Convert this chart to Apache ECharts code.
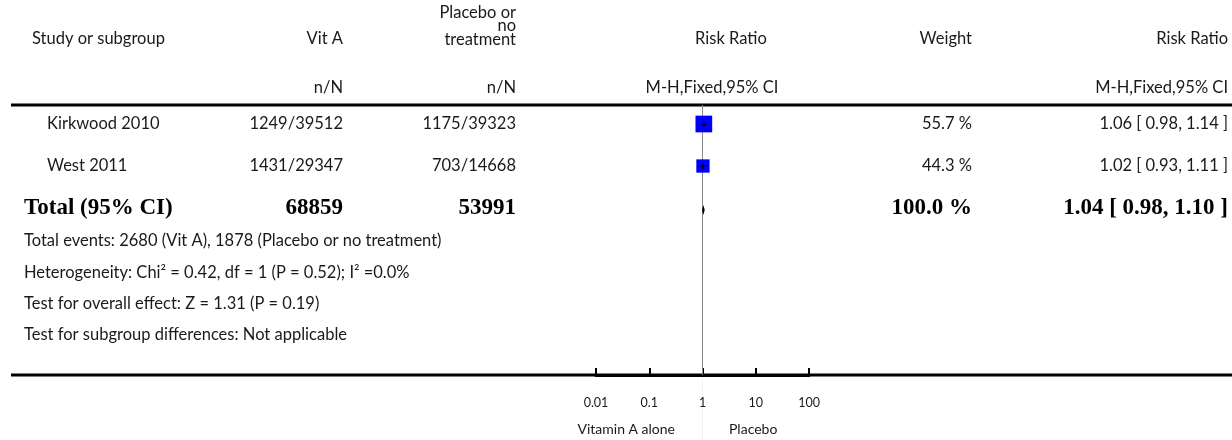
<!DOCTYPE html>
<html>
<head>
<meta charset="utf-8">
<script src="https://cdn.jsdelivr.net/npm/echarts@6/dist/echarts.min.js"></script>
<style>
  html, body { margin: 0; padding: 0; background: #fff; }
  #chart { width: 1232px; height: 440px; }
</style>
</head>
<body>
<div id="chart"></div>
<script>
// Studies and their raw counts
const studies = ['Kirkwood 2010', 'West 2011'];
const vitAEvents = [1249, 1431];
const vitATotal = [39512, 29347];
const ctrlEvents = [1175, 703];
const ctrlTotal = [39323, 14668];

// Per-study risk ratios with 95% CI and weights (%)
const rr = [1.06, 1.02];
const rrLow = [0.98, 0.93];
const rrHigh = [1.14, 1.11];
const weights = [55.7, 44.3];

// Pooled estimate
const totalLabel = 'Total (95% CI)';
const totalVitA = 68859;
const totalCtrl = 53991;
const totalWeight = 100.0;
const totalRR = 1.04;
const totalLow = 0.98;
const totalHigh = 1.10;

// Footnotes
const footnotes = [
  'Total events: 2680 (Vit A), 1878 (Placebo or no treatment)',
  'Heterogeneity: Chi\u00B2 = 0.42, df = 1 (P = 0.52); I\u00B2 =0.0%',
  'Test for overall effect: Z = 1.31 (P = 0.19)',
  'Test for subgroup differences: Not applicable'
];

// Axis ticks and direction labels
const tickValues = [0.01, 0.1, 1, 10, 100];
const tickLabels = ['0.01', '0.1', '1', '10', '100'];
const favoursLeft = 'Vitamin A alone';
const favoursRight = 'Placebo';

const FONT = 'Lato, "Open Sans", sans-serif';
const SERIF = '"Liberation Serif", "DejaVu Serif", serif';
const INK = '#1a1a1a';
const BODY = '16.5px ' + FONT;

const chart = echarts.init(document.getElementById('chart'), null, { renderer: 'canvas' });

// Layout (pixels)
const rowY = [124, 166];
const totalY = 208;
const ruleTop = 105;
const axisY = 375;

function txt(text, x, y, align, opts) {
  opts = opts || {};
  return {
    type: 'text',
    x: x, y: y,
    silent: true,
    style: {
      text: text,
      textAlign: align,
      textVerticalAlign: 'middle',
      fill: opts.fill || INK,
      font: opts.font || BODY,
      lineHeight: opts.lineHeight
    }
  };
}

const fmt2 = v => v.toFixed(2);
const ciText = (e, l, h) => fmt2(e) + ' [ ' + fmt2(l) + ', ' + fmt2(h) + ' ]';

const graphics = [];
// Header
graphics.push(txt('Study or subgroup', 32, 39, 'left'));
graphics.push(txt('Vit A', 343, 39, 'right'));
graphics.push(txt('Placebo or\nno\ntreatment', 516, 26, 'right', { lineHeight: 13.5 }));
graphics.push(txt('Risk Ratio', 731, 39, 'center'));
graphics.push(txt('Weight', 972, 39, 'right'));
graphics.push(txt('Risk Ratio', 1228, 39, 'right'));
graphics.push(txt('n/N', 343, 88, 'right'));
graphics.push(txt('n/N', 516, 88, 'right'));
graphics.push(txt('M-H,Fixed,95% CI', 712, 88, 'center'));
graphics.push(txt('M-H,Fixed,95% CI', 1228, 88, 'right'));

// Table rules
graphics.push({ type: 'line', silent: true, shape: { x1: 11, y1: ruleTop, x2: 1232, y2: ruleTop }, style: { stroke: '#000', lineWidth: 3 } });
graphics.push({ type: 'line', silent: true, shape: { x1: 11, y1: axisY, x2: 1232, y2: axisY }, style: { stroke: '#000', lineWidth: 3 } });

// Study rows
studies.forEach((s, i) => {
  const y = rowY[i];
  graphics.push(txt(s, 47, y, 'left'));
  graphics.push(txt(vitAEvents[i] + '/' + vitATotal[i], 343, y, 'right'));
  graphics.push(txt(ctrlEvents[i] + '/' + ctrlTotal[i], 516, y, 'right'));
  graphics.push(txt(weights[i].toFixed(1) + ' %', 972, y, 'right'));
  graphics.push(txt(ciText(rr[i], rrLow[i], rrHigh[i]), 1228, y, 'right'));
});

// Total row
const boldSerif = 'bold 23px ' + SERIF;
graphics.push(txt(totalLabel, 24, totalY, 'left', { font: boldSerif, fill: '#000' }));
graphics.push(txt(String(totalVitA), 343, totalY, 'right', { font: boldSerif, fill: '#000' }));
graphics.push(txt(String(totalCtrl), 516, totalY, 'right', { font: boldSerif, fill: '#000' }));
graphics.push(txt(totalWeight.toFixed(1) + ' %', 972, totalY, 'right', { font: boldSerif, fill: '#000' }));
graphics.push(txt(ciText(totalRR, totalLow, totalHigh), 1228, totalY, 'right', { font: boldSerif, fill: '#000' }));

// Footnotes
footnotes.forEach((f, i) => {
  graphics.push(txt(f, 24, 241 + i * 31.3, 'left'));
});

// Direction labels under the axis
graphics.push(txt(favoursLeft, 675, 429, 'right', { font: '14px ' + FONT }));
graphics.push(txt(favoursRight, 729, 429, 'left', { font: '14px ' + FONT }));

// Faint continuation of the null line below the axis
graphics.push({ type: 'line', silent: true, shape: { x1: 702.5, y1: axisY + 2, x2: 702.5, y2: 440 }, style: { stroke: '#f2f2f2', lineWidth: 1 } });

// Y scale: row index -> pixel, 42px per row
const rowStep = 42;
const yMin = -(rowY[0] - ruleTop) / rowStep;
const yMax = yMin + (axisY - ruleTop) / rowStep;

const studyData = studies.map((s, i) => [rr[i], i, rrLow[i], rrHigh[i], weights[i]]);
const totalRow = (totalY - rowY[0]) / rowStep + 0.05;

const option = {
  animation: false,
  grid: { left: 596, right: 1232 - 809, top: ruleTop, bottom: 440 - axisY, containLabel: false },
  xAxis: {
    type: 'log',
    logBase: 10,
    min: tickValues[0],
    max: tickValues[tickValues.length - 1],
    splitNumber: 4,
    axisLine: { show: true, onZero: false, lineStyle: { color: '#000', width: 3 } },
    axisTick: { show: true, inside: true, length: 7, lineStyle: { color: '#000', width: 2 } },
    minorTick: { show: false },
    axisLabel: {
      margin: 21,
      fontFamily: FONT,
      fontSize: 12.5,
      color: INK,
      formatter: v => {
        const k = tickValues.findIndex(t => Math.abs(Math.log10(t) - Math.log10(v)) < 1e-6);
        return k >= 0 ? tickLabels[k] : '';
      }
    },
    splitLine: { show: false }
  },
  yAxis: {
    type: 'value',
    inverse: true,
    min: yMin,
    max: yMax,
    show: false
  },
  series: [
    {
      type: 'custom',
      name: 'studies',
      data: studyData,
      renderItem: (params, api) => {
        const c = api.coord([api.value(0), api.value(1)]);
        const lo = api.coord([api.value(2), api.value(1)]);
        const hi = api.coord([api.value(3), api.value(1)]);
        const side = api.value(4) * 0.3;
        return {
          type: 'group',
          children: [
            { type: 'rect', shape: { x: c[0] - side / 2, y: c[1] - side / 2, width: side, height: side }, style: { fill: '#0000ff' } },
            { type: 'line', shape: { x1: Math.min(lo[0], c[0] - 3), y1: c[1], x2: Math.max(hi[0], c[0] + 3), y2: c[1] }, style: { stroke: '#000', lineWidth: 1.2 } },
            { type: 'line', shape: { x1: c[0], y1: c[1] - 3, x2: c[0], y2: c[1] + 3 }, style: { stroke: '#000', lineWidth: 1.2 } }
          ]
        };
      },
      markLine: {
        silent: true,
        symbol: 'none',
        label: { show: false },
        lineStyle: { color: '#888', width: 1, type: 'solid' },
        data: [{ xAxis: 1 }]
      },
      z: 5
    },
    {
      type: 'custom',
      name: 'total',
      data: [[totalRR, totalRow, totalLow, totalHigh]],
      renderItem: (params, api) => {
        const c = api.coord([api.value(0), api.value(1)]);
        const lo = api.coord([api.value(2), api.value(1)]);
        const hi = api.coord([api.value(3), api.value(1)]);
        return {
          type: 'polygon',
          shape: { points: [[lo[0], c[1]], [c[0], c[1] - 5], [hi[0], c[1]], [c[0], c[1] + 5]] },
          style: { fill: '#000' }
        };
      },
      z: 6
    }
  ],
  graphic: graphics
};

chart.setOption(option);
</script>
</body>
</html>
